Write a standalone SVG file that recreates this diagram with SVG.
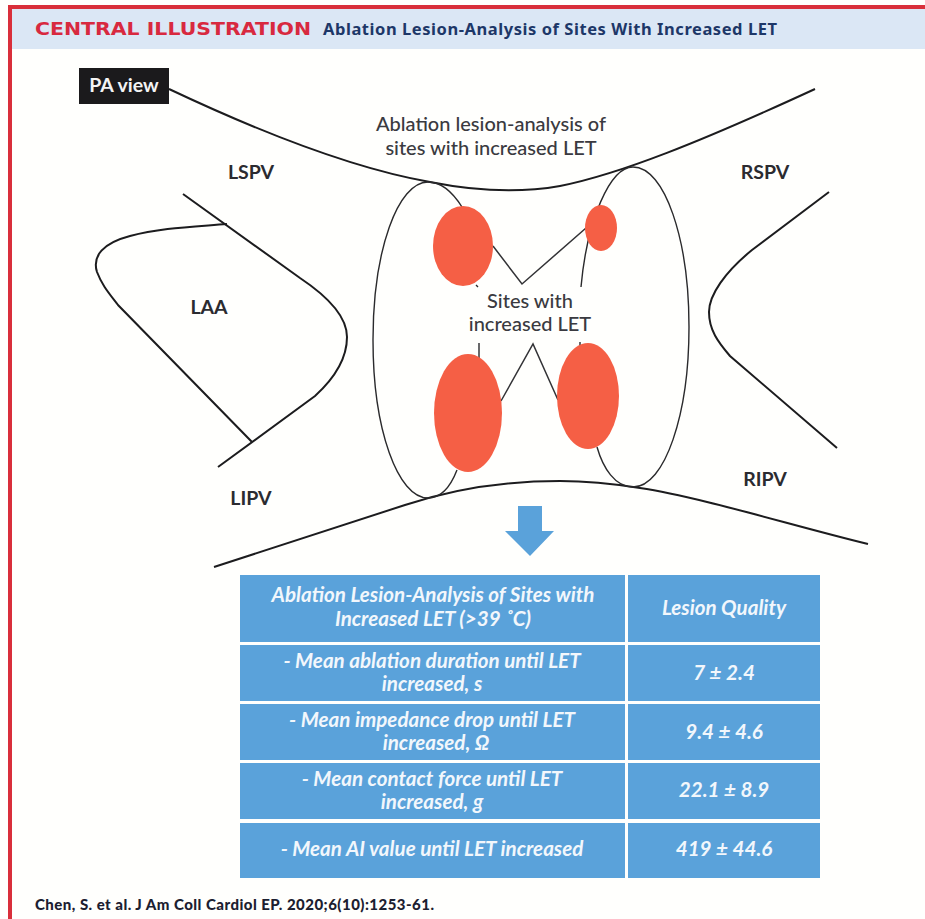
<svg xmlns="http://www.w3.org/2000/svg" width="925" height="919" viewBox="0 0 925 919">
<style>
.ln{fill:none;stroke:#1c1c1e;stroke-width:2}
.th{fill:none;stroke:#2a2a2c;stroke-width:1.4}
.lead{fill:none;stroke:#333336;stroke-width:1.5}
.site{fill:#f55f45}
.cell{fill:#5aa2da}
text{font-family:"Lato","Noto Sans",sans-serif}
.lab{font-size:19.5px;font-weight:700;fill:#2b2b30;text-anchor:middle}
.cap{font-size:20px;font-weight:500;fill:#3a3a40;text-anchor:middle}
.t{font-size:20.6px;font-weight:700;font-style:italic;fill:#f2f7fc;text-anchor:middle}
</style>
<rect width="925" height="919" fill="#fffffd"/>
<!-- frame and title band -->
<g id="frame">
<rect x="12" y="9" width="913" height="40" fill="#dbe7f5"/>
<rect x="8" y="5" width="917" height="4" fill="#d92f3a"/>
<rect x="8" y="5" width="4" height="914" fill="#d92f3a"/>
<text x="35" y="34.500" font-size="17" font-weight="700" fill="#d8293f" textLength="276" lengthAdjust="spacingAndGlyphs" style="font-family:'DejaVu Sans',sans-serif">CENTRAL ILLUSTRATION</text>
<text x="323" y="35" font-size="16.5" font-weight="700" fill="#1d3768" textLength="454" lengthAdjust="spacing" style="font-family:'Noto Sans',sans-serif">Ablation Lesion-Analysis of Sites With Increased LET</text>
</g>
<!-- atrial outline, pulmonary veins and appendage -->
<g id="connectors">
<path class="ln" d="M169 89C260 132 350 168 430 182C470 190 515 194 560 186C620 174 700 142 815 89"/>
<path class="ln" d="M214 567L405 505C450 490 500 481 560 481C590 481 615 484 640 488C700 497 790 525 868 544"/>
<path class="ln" d="M183 194L300 278C330 298 347 318 347 337C347 355 338 375 315 396L218 467"/>
<path class="ln" d="M227 224C190 227 160 228 130 236C103 243 92 256 97 272C102 285 108 292 118 305L252 442"/>
<path class="ln" d="M829 192L752 250C725 272 709 295 709 312C709 330 718 342 730 356L837 448"/>
<path class="th" d="M462 207C450 188 438 182 428 182C398 182 373 250 373 340C373 430 398 498 428 498C440 498 450 488 457 470"/>
<path class="th" d="M476 285L478 287M479 343V358M580 342V346"/>
<path class="th" d="M581 287C587 220 610 167 633 167C665 167 689 240 689 327C689 414 665 487 633 487C615 487 603 468 597 447"/>
<path class="lead" d="M493 246L522 284L586 228"/>
<path class="lead" d="M501 401L533 344L558 400"/>
</g>
<!-- sites with increased temperature -->
<g id="sites">
<ellipse class="site" cx="463" cy="246" rx="30" ry="40"/>
<ellipse class="site" cx="601" cy="228" rx="16" ry="23"/>
<ellipse class="site" cx="468" cy="413" rx="34" ry="59"/>
<ellipse class="site" cx="588" cy="396" rx="31" ry="53"/>
</g>
<g id="pa-view">
<rect x="79" y="68" width="90" height="36" fill="#1b1a1c"/>
<text x="124" y="92" font-size="19.5" font-weight="700" fill="#f4f4f4" text-anchor="middle">PA view</text>
</g>
<g id="labels">
<text class="cap" x="491" y="131">Ablation lesion-analysis of</text>
<text class="cap" x="491" y="155">sites with increased LET</text>
<text class="lab" x="251" y="179">LSPV</text>
<text class="lab" x="765" y="179">RSPV</text>
<text class="lab" x="209" y="314">LAA</text>
<text class="lab" x="251" y="505">LIPV</text>
<text class="lab" x="765" y="486">RIPV</text>
<text class="cap" x="530" y="308">Sites with</text>
<text class="cap" x="530" y="331">increased LET</text>
</g>
<g id="arrow"><path fill="#5aa2da" d="M518 506H542V531H554L530 556L505 531H518Z"/></g>
<!-- results table -->
<g id="table">
<rect class="cell" x="240" y="575" width="385" height="67"/>
<rect class="cell" x="628" y="575" width="192" height="67"/>
<rect class="cell" x="240" y="645" width="385" height="56"/>
<rect class="cell" x="628" y="645" width="192" height="56"/>
<rect class="cell" x="240" y="704" width="385" height="56"/>
<rect class="cell" x="628" y="704" width="192" height="56"/>
<rect class="cell" x="240" y="763" width="385" height="56"/>
<rect class="cell" x="628" y="763" width="192" height="56"/>
<rect class="cell" x="240" y="823" width="385" height="55"/>
<rect class="cell" x="628" y="823" width="192" height="55"/>
<text class="t" x="433" y="602">Ablation Lesion-Analysis of Sites with</text>
<text class="t" x="433" y="626">Increased LET (&gt;39 ˚C)</text>
<text class="t" x="724" y="615">Lesion Quality</text>
<text class="t" x="432" y="668">- Mean ablation duration until LET</text>
<text class="t" x="432" y="691">increased, s</text>
<text class="t" x="724" y="680">7 ± 2.4</text>
<text class="t" x="432" y="727">- Mean impedance drop until LET</text>
<text class="t" x="436" y="750">increased, Ω</text>
<text class="t" x="724" y="739">9.4 ± 4.6</text>
<text class="t" x="432" y="786">- Mean contact force until LET</text>
<text class="t" x="432" y="809">increased, g</text>
<text class="t" x="724" y="797">22.1 ± 8.9</text>
<text class="t" x="432" y="856">- Mean AI value until LET increased</text>
<text class="t" x="724" y="856">419 ± 44.6</text>
</g>
<text id="citation" x="35" y="910" font-size="15" font-weight="900" fill="#1c2030" textLength="399" lengthAdjust="spacing">Chen, S. et al. J Am Coll Cardiol EP. 2020;6(10):1253-61.</text>
</svg>
